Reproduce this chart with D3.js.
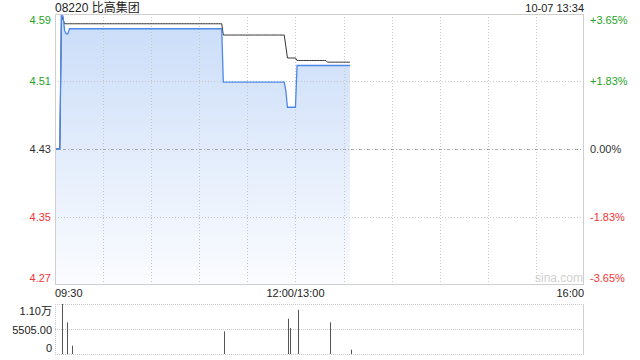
<!DOCTYPE html>
<html>
<head>
<meta charset="utf-8">
<script src="https://cdn.jsdelivr.net/npm/d3@7"></script>
<style>
    body { margin: 0; background: #fff; }
    svg text { font-family: Arial, "Liberation Sans", "Noto Sans CJK SC", sans-serif; font-size: 11px; }
</style>
</head>
<body>
<svg id="chart" width="640" height="360"></svg>
<script>
var stockTitle = "08220 比高集团";
var stampText = "10-07 13:34";
var prevClose = 4.43;

// one value per minute, 09:30 .. 13:34 (12:00 and 13:00 share index 150)
var priceValues = [
    4.43, 4.43, 4.43, 4.43, 4.59, 4.589, 4.572, 4.568, 4.568, 4.574,
    4.574, 4.574, 4.574, 4.574, 4.574, 4.574, 4.574, 4.574, 4.574, 4.574,
    4.574, 4.574, 4.574, 4.574, 4.574, 4.574, 4.574, 4.574, 4.574, 4.574,
    4.574, 4.574, 4.574, 4.574, 4.574, 4.574, 4.574, 4.574, 4.574, 4.574,
    4.574, 4.574, 4.574, 4.574, 4.574, 4.574, 4.574, 4.574, 4.574, 4.574,
    4.574, 4.574, 4.574, 4.574, 4.574, 4.574, 4.574, 4.574, 4.574, 4.574,
    4.574, 4.574, 4.574, 4.574, 4.574, 4.574, 4.574, 4.574, 4.574, 4.574,
    4.574, 4.574, 4.574, 4.574, 4.574, 4.574, 4.574, 4.574, 4.574, 4.574,
    4.574, 4.574, 4.574, 4.574, 4.574, 4.574, 4.574, 4.574, 4.574, 4.574,
    4.574, 4.574, 4.574, 4.574, 4.574, 4.574, 4.574, 4.574, 4.574, 4.574,
    4.574, 4.574, 4.574, 4.574, 4.574, 4.51, 4.51, 4.51, 4.51, 4.51,
    4.51, 4.51, 4.51, 4.51, 4.51, 4.51, 4.51, 4.51, 4.51, 4.51,
    4.51, 4.51, 4.51, 4.51, 4.51, 4.51, 4.51, 4.51, 4.51, 4.51,
    4.51, 4.51, 4.51, 4.51, 4.51, 4.51, 4.51, 4.51, 4.51, 4.51,
    4.51, 4.51, 4.51, 4.51, 4.50, 4.48, 4.48, 4.48, 4.48, 4.48,
    4.48, 4.53, 4.53, 4.53, 4.53, 4.53, 4.53, 4.53, 4.53, 4.53,
    4.53, 4.53, 4.53, 4.53, 4.53, 4.53, 4.53, 4.53, 4.53, 4.53,
    4.53, 4.53, 4.53, 4.53, 4.53, 4.53, 4.53, 4.53, 4.53, 4.53,
    4.53, 4.53, 4.53, 4.53, 4.53
];

var avgValues = [
    4.43, 4.43, 4.43, 4.43, 4.59, 4.585, 4.58, 4.58, 4.58, 4.58,
    4.58, 4.58, 4.58, 4.58, 4.58, 4.58, 4.58, 4.58, 4.58, 4.58,
    4.58, 4.58, 4.58, 4.58, 4.58, 4.58, 4.58, 4.58, 4.58, 4.58,
    4.58, 4.58, 4.58, 4.58, 4.58, 4.58, 4.58, 4.58, 4.58, 4.58,
    4.58, 4.58, 4.58, 4.58, 4.58, 4.58, 4.58, 4.58, 4.58, 4.58,
    4.58, 4.58, 4.58, 4.58, 4.58, 4.58, 4.58, 4.58, 4.58, 4.58,
    4.58, 4.58, 4.58, 4.58, 4.58, 4.58, 4.58, 4.58, 4.58, 4.58,
    4.58, 4.58, 4.58, 4.58, 4.58, 4.58, 4.58, 4.58, 4.58, 4.58,
    4.58, 4.58, 4.58, 4.58, 4.58, 4.58, 4.58, 4.58, 4.58, 4.58,
    4.58, 4.58, 4.58, 4.58, 4.58, 4.58, 4.58, 4.58, 4.58, 4.58,
    4.58, 4.58, 4.58, 4.58, 4.58, 4.5665, 4.5665, 4.5665, 4.5665, 4.5665,
    4.5665, 4.5665, 4.5665, 4.5665, 4.5665, 4.5665, 4.5665, 4.5665, 4.5665, 4.5665,
    4.5665, 4.5665, 4.5665, 4.5665, 4.5665, 4.5665, 4.5665, 4.5665, 4.5665, 4.5665,
    4.5665, 4.5665, 4.5665, 4.5665, 4.5665, 4.5665, 4.5665, 4.5665, 4.5665, 4.5665,
    4.5665, 4.5665, 4.5665, 4.5665, 4.553, 4.539, 4.539, 4.539, 4.539, 4.539,
    4.539, 4.536, 4.536, 4.536, 4.536, 4.536, 4.536, 4.536, 4.536, 4.536,
    4.536, 4.536, 4.536, 4.536, 4.536, 4.536, 4.536, 4.536, 4.536, 4.536,
    4.534, 4.534, 4.534, 4.534, 4.534, 4.534, 4.534, 4.534, 4.534, 4.534,
    4.534, 4.534, 4.534, 4.534, 4.534
];

var timeLabels = ["09:30", "12:00/13:00", "16:00"];
var timeLabelMinutes = [0, 150, 330];

var pctTicks = [3.65, 1.83, 0, -1.83, -3.65];
var priceTickLabels = ["4.59", "4.51", "4.43", "4.35", "4.27"];
var pctTickLabels = ["+3.65%", "+1.83%", "0.00%", "-1.83%", "-3.65%"];

var volMinutes = [4, 7, 10, 105, 145, 146, 151, 171, 184];
var volValues = [11010, 6960, 1830, 4980, 7770, 5720, 9750, 6960, 950];
var volTickValues = [11010, 5505, 0];
var volTickLabels = ["1.10万", "5505.00", "0"];

var UP = "#1fa31f", DOWN = "#f23535", FLAT = "#333";

function tickColor(p) {
    if (p > 0) return UP;
    if (p < 0) return DOWN;
    return FLAT;
}

function draw() {
    var svg = d3.select("#chart");
    var left = 55, right = 584, top = 14, bottom = 284;
    var vTop = 304, vBottom = 354;

    var x = d3.scaleLinear().domain([0, 330]).range([left, right]);
    var y = d3.scaleLinear()
        .domain([prevClose * (1 - 0.0365), prevClose * (1 + 0.0365)])
        .range([bottom, top]);
    var yv = d3.scaleLinear().domain([0, d3.max(volTickValues)]).range([vBottom, vTop]);

    var grad = svg.append("defs").append("linearGradient")
        .attr("id", "fillGrad")
        .attr("x1", 0).attr("y1", 0).attr("x2", 0).attr("y2", 1);
    grad.append("stop").attr("offset", "0%").attr("stop-color", "#c9dcf8");
    grad.append("stop").attr("offset", "100%").attr("stop-color", "#fbfcff");

    var area = d3.area()
        .x(function (d, i) { return x(i); })
        .y0(bottom)
        .y1(function (d) { return y(d); });
    svg.append("path")
        .datum(priceValues)
        .attr("d", area)
        .attr("fill", "url(#fillGrad)");

    // grid sits over the fill, like the original
    var grid = svg.append("g").attr("class", "grid");
    grid.selectAll("line.v")
        .data(d3.range(30, 330, 30))
        .enter().append("line")
        .attr("x1", function (d) { return Math.round(x(d)) + 0.5; })
        .attr("x2", function (d) { return Math.round(x(d)) + 0.5; })
        .attr("y1", top).attr("y2", bottom)
        .attr("stroke", "#c8c8c8")
        .attr("stroke-dasharray", "1,2");
    grid.selectAll("line.h")
        .data(pctTicks.filter(function (p) { return Math.abs(p) < 3; }))
        .enter().append("line")
        .attr("x1", left).attr("x2", right)
        .attr("y1", function (p) { return Math.round(y(prevClose * (1 + p / 100))) + 0.5; })
        .attr("y2", function (p) { return Math.round(y(prevClose * (1 + p / 100))) + 0.5; })
        .attr("stroke", function (p) { return p === 0 ? "#aaa" : "#c8c8c8"; })
        .attr("stroke-dasharray", function (p) { return p === 0 ? "3,2,1,2" : "1,2"; });

    var line = d3.line()
        .x(function (d, i) { return x(i); })
        .y(function (d) { return y(d); });
    svg.append("path")
        .datum(avgValues)
        .attr("d", line)
        .attr("fill", "none")
        .attr("stroke", "#333")
        .attr("stroke-width", 1);
    svg.append("path")
        .datum(priceValues)
        .attr("d", line)
        .attr("fill", "none")
        .attr("stroke", "#4d87ea")
        .attr("stroke-width", 1.3);

    // frame
    svg.append("rect")
        .attr("x", left + 0.5).attr("y", top + 0.5)
        .attr("width", right - left - 1).attr("height", bottom - top)
        .attr("fill", "none")
        .attr("stroke", "#cfcfcf");

    svg.append("text")
        .attr("x", right - 25).attr("y", bottom - 2)
        .attr("text-anchor", "middle")
        .attr("fill", "#d0d0d0")
        .style("font-size", "12px")
        .text("sina.com");

    // price / percent labels
    function labelY(p) {
        var v = y(prevClose * (1 + p / 100));
        return Math.max(top + 6, Math.min(bottom - 6, v));
    }
    svg.selectAll("text.price")
        .data(pctTicks)
        .enter().append("text")
        .attr("x", 51)
        .attr("y", labelY)
        .attr("dy", "0.35em")
        .attr("text-anchor", "end")
        .attr("fill", tickColor)
        .text(function (d, i) { return priceTickLabels[i]; });
    svg.selectAll("text.pct")
        .data(pctTicks)
        .enter().append("text")
        .attr("x", 590)
        .attr("y", labelY)
        .attr("dy", "0.35em")
        .attr("fill", tickColor)
        .text(function (d, i) { return pctTickLabels[i]; });

    svg.selectAll("text.time")
        .data(timeLabels)
        .enter().append("text")
        .attr("x", function (d, i) { return x(timeLabelMinutes[i]); })
        .attr("y", 297)
        .attr("text-anchor", function (d, i) { return i === 0 ? "start" : (i === timeLabels.length - 1 ? "end" : "middle"); })
        .attr("fill", "#222")
        .text(function (d) { return d; });

    svg.append("text")
        .attr("x", left).attr("y", 12)
        .attr("fill", "#222")
        .style("font-size", "12px")
        .text(stockTitle);
    svg.append("text")
        .attr("x", right).attr("y", 12)
        .attr("text-anchor", "end")
        .attr("fill", "#222")
        .text(stampText);

    // volume panel
    var vol = svg.append("g").attr("class", "volume");
    vol.selectAll("line.vg")
        .data(volTickValues)
        .enter().append("line")
        .attr("x1", left).attr("x2", right)
        .attr("y1", function (d) { return Math.round(yv(d)) + 0.5; })
        .attr("y2", function (d) { return Math.round(yv(d)) + 0.5; })
        .attr("stroke", "#c8c8c8")
        .attr("stroke-dasharray", "1,1");
    vol.append("line")
        .attr("x1", left + 0.5).attr("x2", left + 0.5)
        .attr("y1", vTop).attr("y2", vBottom)
        .attr("stroke", "#c8c8c8")
        .attr("stroke-dasharray", "1,1");
    vol.append("line")
        .attr("x1", right - 0.5).attr("x2", right - 0.5)
        .attr("y1", vTop).attr("y2", vBottom + 0.5)
        .attr("stroke", "#cfcfcf");

    vol.selectAll("line.bar")
        .data(volValues)
        .enter().append("line")
        .attr("x1", function (d, i) { return Math.round(x(volMinutes[i]) + 0.8) + 0.5; })
        .attr("x2", function (d, i) { return Math.round(x(volMinutes[i]) + 0.8) + 0.5; })
        .attr("y1", yv(0))
        .attr("y2", function (d) { return yv(d); })
        .attr("stroke", "#555")
        .attr("stroke-width", 1);

    vol.selectAll("text.vt")
        .data(volTickValues)
        .enter().append("text")
        .attr("x", 52)
        .attr("y", function (d, i) { return [311.5, 330, 348][i]; })
        .attr("dy", "0.35em")
        .attr("text-anchor", "end")
        .attr("fill", "#222")
        .text(function (d, i) { return volTickLabels[i]; });
}

draw();
</script>
</body>
</html>
